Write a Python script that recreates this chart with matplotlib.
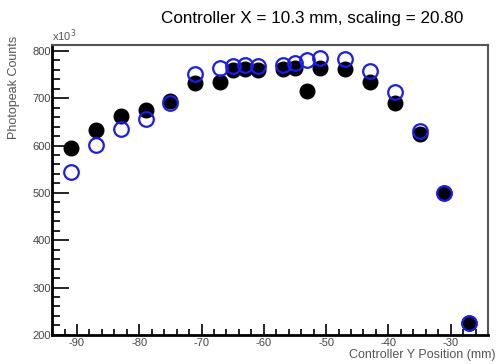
import numpy as np
import matplotlib.pyplot as plt
from matplotlib.ticker import MultipleLocator

plt.rcParams['font.family'] = ['Liberation Sans', 'DejaVu Sans']
plt.rcParams['axes.unicode_minus'] = False

# controller Y positions (mm)
ypos = [-91, -87, -83, -79, -75, -71, -67, -65, -63, -61,
        -57, -55, -53, -51, -47, -43, -39, -35, -31, -27]
# photopeak counts (x10^3)
counts_black = [595, 633, 663, 676, 693, 731, 735, 760, 762, 760,
                762, 764, 716, 764, 762, 735, 690, 625, 500, 225]
counts_blue = [545, 602, 635, 655, 690, 752, 764, 767, 769, 767,
               769, 775, 781, 785, 783, 758, 714, 631, 500, 225]

fig = plt.figure(figsize=(4.96, 3.64), dpi=100)
ax = fig.add_axes([0.105, 0.080, 0.879, 0.796])

ax.plot(ypos, counts_black, 'o', color='black', markersize=10.5, linestyle='none')
ax.plot(ypos, counts_blue, 'o', markerfacecolor='none', markeredgecolor='#1a1aff',
        markeredgewidth=1.6, markersize=10.5, linestyle='none')

ax.set_xlim(-94, -24)
ax.set_ylim(200, 812)

ax.xaxis.set_major_locator(MultipleLocator(10))
ax.xaxis.set_minor_locator(MultipleLocator(2))
ax.yaxis.set_major_locator(MultipleLocator(100))
ax.yaxis.set_minor_locator(MultipleLocator(20))
ax.tick_params(which='both', direction='in', labelsize=8, labelcolor='#444444',
               width=1.2)
ax.tick_params(axis='y', which='major', length=12, pad=1)
ax.tick_params(axis='y', which='minor', length=6)
ax.tick_params(axis='x', which='major', length=8, pad=2)
ax.tick_params(axis='x', which='minor', length=4)

for s in ['left', 'bottom']:
    ax.spines[s].set_linewidth(2)
for s in ['top', 'right']:
    ax.spines[s].set_linewidth(1.5)
    ax.spines[s].set_color('#555555')

ax.set_ylabel('Photopeak Counts', fontsize=9, color='#555555', ha='right')
ax.yaxis.set_label_coords(-0.073, 1.034)
ax.set_xlabel('Controller Y Position (mm)', fontsize=9, color='#555555', ha='right', va='center')
ax.xaxis.set_label_coords(1.016, -0.069)
ax.text(0.0, 1.005, r'x10$^{3}$', transform=ax.transAxes, fontsize=8, color='#555555',
        ha='left', va='bottom')

fig.text(0.934, 0.948, 'Controller X = 10.3 mm, scaling = 20.80', fontsize=12.3,
         ha='right', va='center')

fig.savefig('out.png', dpi=100)
